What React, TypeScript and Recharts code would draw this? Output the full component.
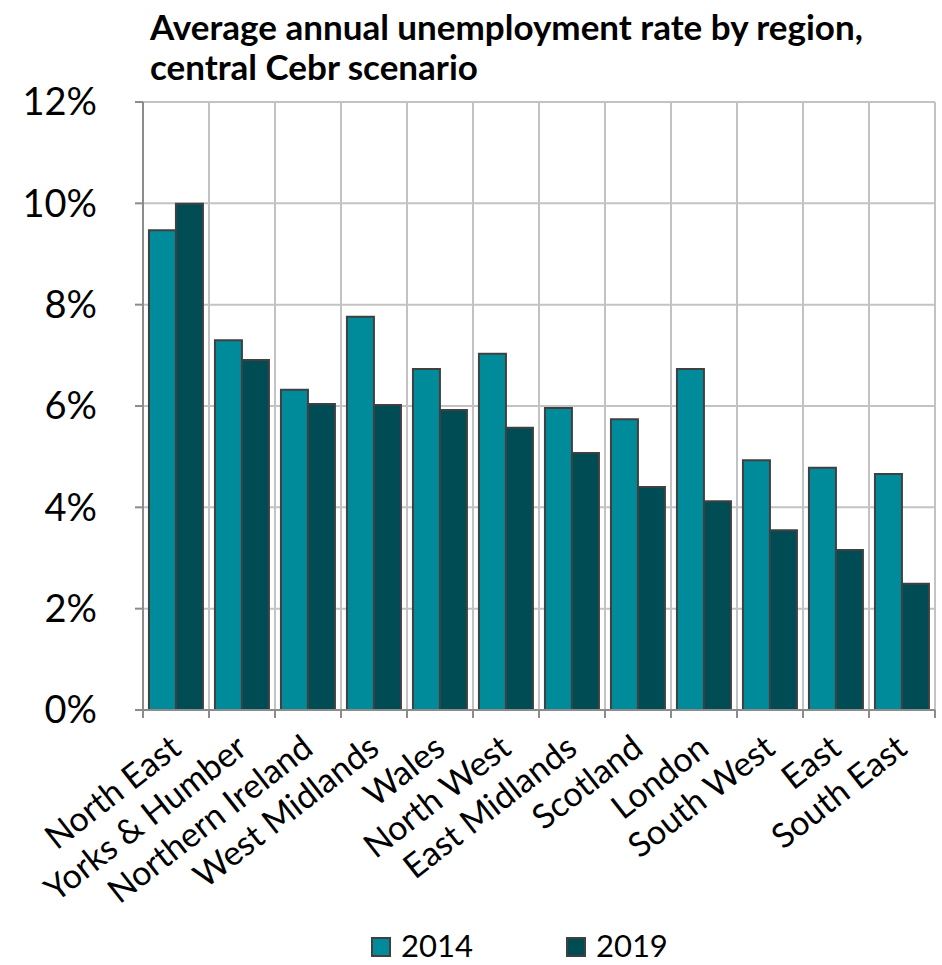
import React from 'react'
import {
  BarChart,
  Bar,
  XAxis,
  YAxis,
  CartesianGrid,
  Legend,
} from 'recharts'

const regions = [
  'North East',
  'Yorks & Humber',
  'Northern Ireland',
  'West Midlands',
  'Wales',
  'North West',
  'East Midlands',
  'Scotland',
  'London',
  'South West',
  'East',
  'South East',
]
const rate2014 = [9.47, 7.3, 6.32, 7.76, 6.73, 7.03, 5.96, 5.74, 6.73, 4.93, 4.78, 4.66]
const rate2019 = [9.99, 6.91, 6.04, 6.02, 5.92, 5.57, 5.07, 4.4, 4.12, 3.55, 3.16, 2.49]
const yTicks = [0, 2, 4, 6, 8, 10, 12]
const seriesNames = ['2014', '2019']
const seriesColors = ['#008b9b', '#004c55']

const data = regions.map((region, i) => ({
  region,
  y2014: rate2014[i],
  y2019: rate2019[i],
}))

const FONT = 'Lato, "Open Sans", sans-serif'
const AXIS = '#8c8c8c'
const GRID = '#c3c3c3'
const BAND = 66

function RegionTick(props: any) {
  const { x, y, payload, index } = props
  const last = index === regions.length - 1
  const tx = x + 7
  const ty = y + 34
  return (
    <g>
      <line x1={x - BAND / 2} y1={y - 8} x2={x - BAND / 2} y2={y} stroke={AXIS} strokeWidth={2} />
      {last && <line x1={x + BAND / 2} y1={y - 8} x2={x + BAND / 2} y2={y} stroke={AXIS} strokeWidth={2} />}
      <text
        x={tx}
        y={ty}
        textAnchor="end"
        transform={`rotate(-38, ${tx}, ${ty})`}
        fontFamily={FONT}
        fontSize={34}
        fill="#000"
      >
        {payload.value}
      </text>
    </g>
  )
}

function LegendBox() {
  return (
    <div style={{ height: 55, display: 'flex', alignItems: 'center', paddingLeft: 363, paddingTop: 14, boxSizing: 'border-box' }}>
      {seriesNames.map((name, i) => (
        <div key={name} style={{ display: 'flex', alignItems: 'center', marginRight: i === 0 ? 93 : 0 }}>
          <span
            style={{
              width: 20,
              height: 20,
              background: seriesColors[i],
              border: '2px solid #404040',
              boxSizing: 'border-box',
              marginRight: 10,
              marginTop: 4,
            }}
          />
          <span style={{ fontFamily: FONT, fontSize: 31, color: '#000', lineHeight: '36px' }}>{name}</span>
        </div>
      ))}
    </div>
  )
}

export default function App() {
  return (
    <div style={{ position: 'absolute', left: 0, top: 0, width: 942, height: 965, background: '#fff' }}>
      <div
        style={{
          position: 'absolute',
          left: 150,
          top: 6,
          fontFamily: FONT,
          fontWeight: 700,
          fontSize: 35,
          lineHeight: '40px',
          color: '#000',
          zIndex: 1,
          whiteSpace: 'nowrap',
        }}
      >
        Average annual unemployment rate by region,
        <br />
        central Cebr scenario
      </div>
      <BarChart
        width={942}
        height={965}
        data={data}
        margin={{ top: 102, right: 7, left: 8, bottom: 0 }}
        barCategoryGap="9%"
        barGap={0}
      >
        <CartesianGrid
          stroke={GRID}
          strokeWidth={2}
          verticalCoordinatesGenerator={({ offset }: any) =>
            regions.map((_, i) => offset.left + ((i + 1) * offset.width) / regions.length)
          }
        />
        <XAxis
          dataKey="region"
          height={200}
          interval={0}
          tickLine={false}
          tickSize={8}
          tickMargin={0}
          axisLine={{ stroke: AXIS, strokeWidth: 2 }}
          tick={<RegionTick />}
        />
        <YAxis
          width={135}
          domain={[0, 12]}
          ticks={yTicks}
          interval={0}
          tickFormatter={(v) => `${v}%`}
          tickSize={8}
          tickMargin={38}
          tickLine={{ stroke: AXIS, strokeWidth: 2 }}
          axisLine={{ stroke: AXIS, strokeWidth: 2 }}
          tick={{ fontFamily: FONT, fontSize: 38, fill: '#000' }}
        />
        <Legend verticalAlign="bottom" height={55} content={<LegendBox />} />
        <Bar dataKey="y2014" name={seriesNames[0]} fill={seriesColors[0]} stroke="#404040" strokeWidth={2} isAnimationActive={false} />
        <Bar dataKey="y2019" name={seriesNames[1]} fill={seriesColors[1]} stroke="#404040" strokeWidth={2} isAnimationActive={false} />
      </BarChart>
    </div>
  )
}
